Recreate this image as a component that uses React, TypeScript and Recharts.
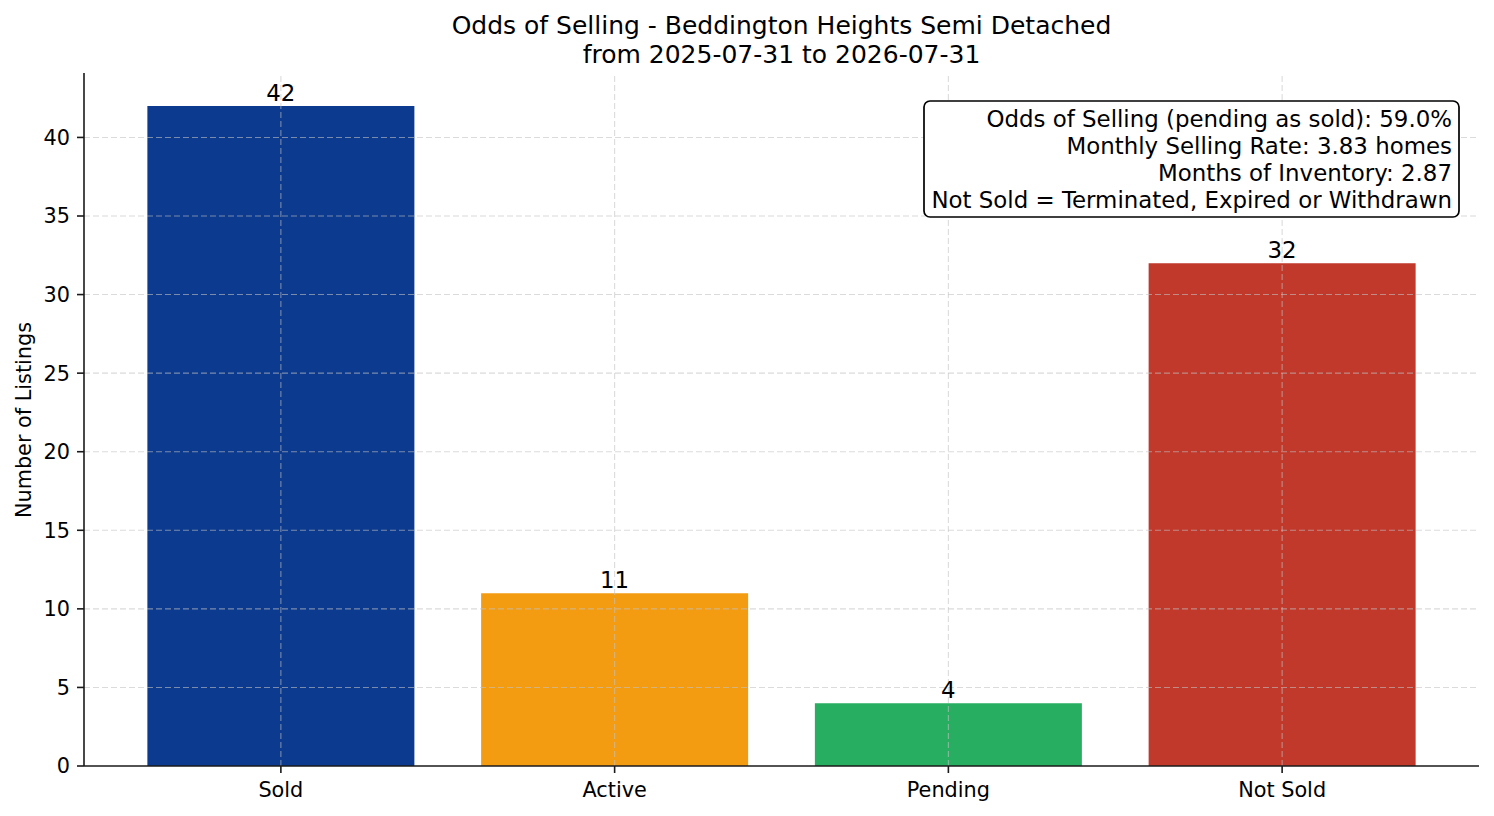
import { BarChart, Bar, XAxis, YAxis, ReferenceLine, Cell, LabelList } from 'recharts'

const categories = ['Sold', 'Active', 'Pending', 'Not Sold']
const counts = [42, 11, 4, 32]
const barColors = ['#0b3a8e', '#f39c12', '#27ae60', '#c0392b']
const yTicks = [0, 5, 10, 15, 20, 25, 30, 35, 40]
const titleLines = [
  'Odds of Selling - Beddington Heights Semi Detached',
  'from 2025-07-31 to 2026-07-31',
]
const statsLines = [
  'Odds of Selling (pending as sold): 59.0%',
  'Monthly Selling Rate: 3.83 homes',
  'Months of Inventory: 2.87',
  'Not Sold = Terminated, Expired or Withdrawn',
]

const FONT = 'DejaVu Sans, sans-serif'
const W = 1494
const H = 816
const GRID = { stroke: 'rgba(195,195,195,0.6)', strokeDasharray: '6 3', strokeWidth: 1.1 }

const data = categories.map((name, i) => ({ name, count: counts[i] }))

export default function App() {
  return (
    <div style={{ position: 'absolute', left: 0, top: 0, width: W, height: H, background: '#fff' }}>
      <BarChart
        width={W}
        height={H}
        data={data}
        margin={{ top: 73, right: 15, bottom: 20, left: 24 }}
        barCategoryGap="10%"
      >
        <XAxis
          dataKey="name"
          height={30}
          padding={{ left: 30, right: 30 }}
          axisLine={{ stroke: '#1a1a1a', strokeWidth: 1.6 }}
          tickLine={{ stroke: '#1a1a1a', strokeWidth: 1.6 }}
          tickSize={7}
          tickMargin={9}
          tick={{ fontSize: 20.8, fill: '#000', fontFamily: FONT }}
        />
        <YAxis
          width={60}
          domain={[0, 44.1]}
          ticks={yTicks}
          allowDataOverflow
          axisLine={{ stroke: '#1a1a1a', strokeWidth: 1.6 }}
          tickLine={{ stroke: '#1a1a1a', strokeWidth: 1.6 }}
          tickSize={7}
          tickMargin={7}
          tick={{ fontSize: 20.8, fill: '#000', fontFamily: FONT }}
        />
        <Bar dataKey="count" isAnimationActive={false}>
          {data.map((d, i) => (
            <Cell key={d.name} fill={barColors[i]} />
          ))}
          <LabelList
            dataKey="count"
            position="top"
            offset={5}
            style={{ fontSize: 22.9, fill: '#000', fontFamily: FONT }}
          />
        </Bar>
        {/* grid drawn over the bars, only at tick positions */}
        {yTicks.slice(1).map(t => (
          <ReferenceLine key={`h${t}`} y={t} {...GRID} />
        ))}
        {categories.map(c => (
          <ReferenceLine key={`v${c}`} x={c} {...GRID} />
        ))}
      </BarChart>

      <svg
        width={W}
        height={H}
        style={{ position: 'absolute', left: 0, top: 0, pointerEvents: 'none' }}
        fontFamily={FONT}
      >
        {titleLines.map((t, i) => (
          <text key={t} x={781.5} y={34 + i * 28.5} textAnchor="middle" fontSize={25} fill="#000">
            {t}
          </text>
        ))}
        <text
          x={31}
          y={420}
          transform="rotate(-90 31 420)"
          textAnchor="middle"
          fontSize={20.8}
          fill="#000"
        >
          Number of Listings
        </text>
        <rect x={924} y={101} width={535} height={116} rx={6} fill="#fff" stroke="#000" strokeWidth={1.7} />
        {statsLines.map((t, i) => (
          <text key={t} x={1452} y={127 + i * 27} textAnchor="end" fontSize={22.9} fill="#000">
            {t}
          </text>
        ))}
      </svg>
    </div>
  )
}
